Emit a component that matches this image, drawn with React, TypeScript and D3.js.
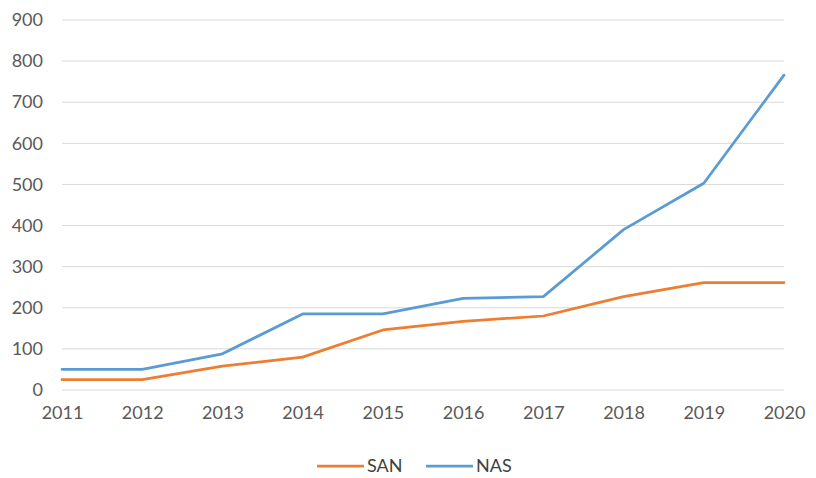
import React, { useEffect, useRef } from "react";
import * as d3 from "d3";

const years = ["2011", "2012", "2013", "2014", "2015", "2016", "2017", "2018", "2019", "2020"];
const sanValues = [25, 25, 58, 80, 146, 167, 180, 227, 261, 261];
const nasValues = [50, 50, 88, 185, 185, 223, 227, 390, 503, 766];
const yTicks = [0, 100, 200, 300, 400, 500, 600, 700, 800, 900];

const series = [
  { name: "SAN", values: sanValues, color: "#ED7D31" },
  { name: "NAS", values: nasValues, color: "#5B9BD5" },
];

const App = () => {
  const svgRef = useRef<SVGSVGElement>(null);
  const width = 816;
  const height = 478;

  useEffect(() => {
    const svg = d3.select(svgRef.current);
    svg.selectAll("*").remove();

    const font = "Lato, 'Open Sans', sans-serif";

    // scales
    const xScale = d3.scalePoint<string>().domain(years).range([62, 784]);
    const yScale = d3.scaleLinear().domain([0, 900]).range([390, 20]);

    // gridlines
    svg
      .append("g")
      .selectAll("line")
      .data(yTicks)
      .enter()
      .append("line")
      .attr("x1", 62)
      .attr("x2", 784)
      .attr("y1", (d) => yScale(d))
      .attr("y2", (d) => yScale(d))
      .attr("stroke", "#d9d9d9")
      .attr("stroke-width", 1);

    // y axis labels
    const yAxis = svg
      .append("g")
      .attr("transform", "translate(52,0)")
      .call(d3.axisLeft(yScale).tickValues(yTicks).tickSize(0).tickPadding(9));
    yAxis.select(".domain").remove();
    yAxis
      .selectAll("text")
      .attr("font-family", font)
      .attr("font-size", 18)
      .attr("fill", "#595959");

    // x axis labels
    const xAxis = svg
      .append("g")
      .attr("transform", "translate(0,398)")
      .call(d3.axisBottom(xScale).tickSize(0).tickPadding(8));
    xAxis.select(".domain").remove();
    xAxis
      .selectAll("text")
      .attr("font-family", font)
      .attr("font-size", 18)
      .attr("fill", "#595959");

    // lines
    const line = d3
      .line<number>()
      .x((d, i) => xScale(years[i]) as number)
      .y((d) => yScale(d));

    series.forEach((s) => {
      svg
        .append("path")
        .datum(s.values)
        .attr("fill", "none")
        .attr("stroke", s.color)
        .attr("stroke-width", 2.75)
        .attr("stroke-linejoin", "round")
        .attr("stroke-linecap", "round")
        .attr("d", line);
    });

    // legend
    const legendX = [317, 426];
    const legend = svg
      .selectAll("g.legend")
      .data(series)
      .enter()
      .append("g")
      .attr("class", "legend")
      .attr("transform", (d, i) => `translate(${legendX[i]},466)`);

    legend
      .append("line")
      .attr("x1", 0)
      .attr("x2", 47)
      .attr("y1", 0)
      .attr("y2", 0)
      .attr("stroke", (d) => d.color)
      .attr("stroke-width", 2.75);

    legend
      .append("text")
      .attr("x", 50)
      .attr("y", 0)
      .attr("dy", "0.35em")
      .attr("font-family", font)
      .attr("font-size", 18)
      .attr("fill", "#404040")
      .text((d) => d.name);
  }, []);

  return (
    <svg
      ref={svgRef}
      width={width}
      height={height}
      style={{ position: "absolute", left: 0, top: 0, background: "#fff" }}
    />
  );
};

export default App;
